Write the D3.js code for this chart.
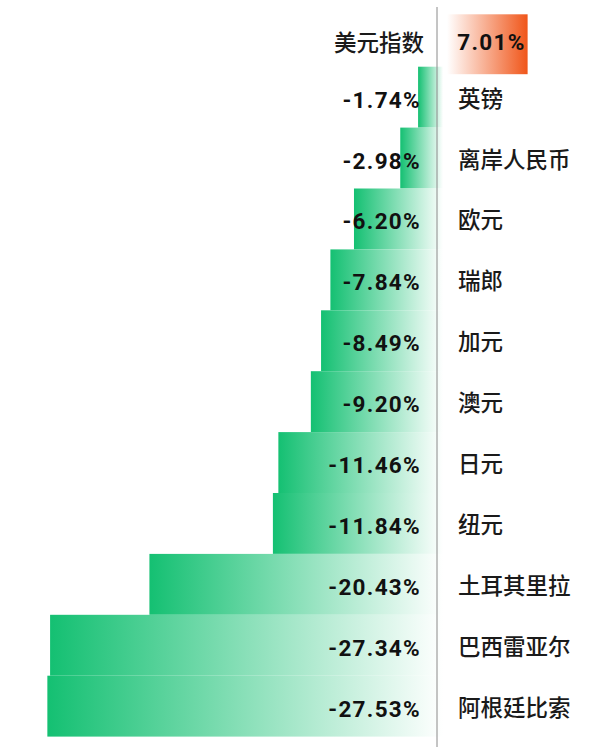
<!DOCTYPE html>
<html>
<head>
<meta charset="utf-8">
<script src="https://cdn.jsdelivr.net/npm/d3@7"></script>
<style>
  html, body { margin: 0; padding: 0; background: #ffffff; }
  svg { display: block; }
</style>
</head>
<body>
<div id="chart"></div>
<script>
// ---- data ----
const categories = ["美元指数", "英镑", "离岸人民币", "欧元", "瑞郎", "加元", "澳元", "日元", "纽元", "土耳其里拉", "巴西雷亚尔", "阿根廷比索"];
const changes = [7.01, -1.74, -2.98, -6.20, -7.84, -8.49, -9.20, -11.46, -11.84, -20.43, -27.34, -27.53];
const valueLabels = ["7.01%", "-1.74%", "-2.98%", "-6.20%", "-7.84%", "-8.49%", "-9.20%", "-11.46%", "-11.84%", "-20.43%", "-27.34%", "-27.53%"];

const W = 600, H = 747;
const data = categories.map((c, i) => ({ cat: c, v: changes[i], label: valueLabels[i] }));

const svg = d3.select("#chart").append("svg")
  .attr("width", W).attr("height", H)
  .attr("viewBox", `0 0 ${W} ${H}`);

const defs = svg.append("defs");
const gGreen = defs.append("linearGradient").attr("id", "gGreen")
  .attr("x1", "0%").attr("x2", "100%").attr("y1", "0%").attr("y2", "0%");
gGreen.append("stop").attr("offset", "0%").attr("stop-color", "#14c072");
gGreen.append("stop").attr("offset", "100%").attr("stop-color", "#ffffff");

const gOrange = defs.append("linearGradient").attr("id", "gOrange")
  .attr("x1", "0%").attr("x2", "100%").attr("y1", "0%").attr("y2", "0%");
gOrange.append("stop").attr("offset", "0%").attr("stop-color", "#ffffff");
gOrange.append("stop").attr("offset", "100%").attr("stop-color", "#f0561a");

// ---- scales ----
const y = d3.scaleBand().domain(categories).range([5.8, 5.8 + 12 * 60.9]).padding(0);
const xNeg = d3.scaleLinear().domain([-30, 0]).range([11.85, 443.1]);
const xPos = d3.scaleLinear().domain([0, 10]).range([447, 562]);

const axisX = 437;
const posShift = 8.5;

// negative bars
svg.append("g").selectAll("rect.neg")
  .data(data.filter(d => d.v < 0))
  .join("rect")
  .attr("class", "neg")
  .attr("x", d => xNeg(d.v))
  .attr("y", d => y(d.cat))
  .attr("width", d => xNeg(0) - xNeg(d.v))
  .attr("height", y.bandwidth())
  .attr("fill", "url(#gGreen)");

// positive bars
svg.append("g").selectAll("rect.pos")
  .data(data.filter(d => d.v > 0))
  .join("rect")
  .attr("class", "pos")
  .attr("x", xPos(0))
  .attr("y", d => y(d.cat) + posShift)
  .attr("width", d => xPos(d.v) - xPos(0))
  .attr("height", y.bandwidth() - 1)
  .attr("fill", "url(#gOrange)");

// axis line
svg.append("line")
  .attr("x1", axisX).attr("x2", axisX)
  .attr("y1", 7).attr("y2", H)
  .attr("stroke", "#8a8a8a").attr("stroke-width", 1);

const numFont = "Roboto, 'DejaVu Sans', sans-serif";
const cjkFont = "'Noto Sans CJK SC', 'Noto Sans', sans-serif";
const baseOff = 10.5;

// value labels
svg.append("g").selectAll("text.val")
  .data(data)
  .join("text")
  .attr("class", "val")
  .attr("x", d => d.v < 0 ? 421 : xPos(d.v) - 2)
  .attr("y", d => y(d.cat) + y.bandwidth() / 2 + baseOff + (d.v > 0 ? 3 : 0))
  .attr("text-anchor", "end")
  .attr("font-family", numFont)
  .attr("font-weight", 700)
  .attr("font-size", 22.5)
  .attr("letter-spacing", 1.3)
  .attr("fill", "#111")
  .text(d => d.label);

// category labels
svg.append("g").selectAll("text.cat")
  .data(data)
  .join("text")
  .attr("class", "cat")
  .attr("x", d => d.v < 0 ? 458 : 424)
  .attr("y", d => y(d.cat) + y.bandwidth() / 2 + baseOff - 1 + (d.v > 0 ? 5 : 0))
  .attr("text-anchor", d => d.v < 0 ? "start" : "end")
  .attr("font-family", cjkFont)
  .attr("font-weight", 500)
  .attr("font-size", 22.5)
  .attr("fill", "#1a1a1a")
  .text(d => d.cat);
</script>
</body>
</html>
